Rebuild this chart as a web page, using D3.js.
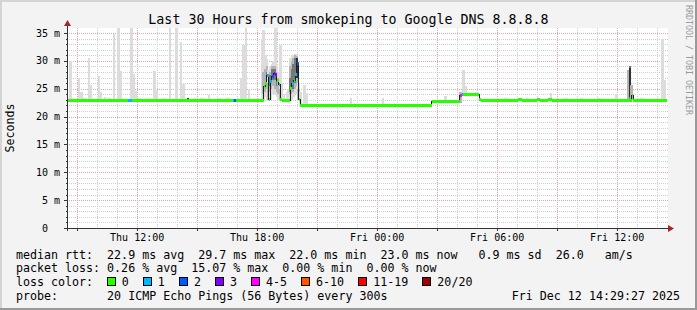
<!DOCTYPE html>
<html>
<head>
<meta charset="utf-8">
<script src="https://cdn.jsdelivr.net/npm/d3@7"></script>
<style>
  body { margin: 0; background: #f3f3f3; }
  text { font-family: "DejaVu Sans Mono", monospace; white-space: pre; }
</style>
</head>
<body>
<div id="chart"></div>
<script>
// loss classes (smokeping defaults for 20 pings)
const lossColors = ["#26ff00", "#00b8ff", "#0059ff", "#7e00ff", "#ff00ff", "#ff5500", "#ff0000", "#a10000"];
const lossLabels = ["0", "1", "2", "3", "4-5", "6-10", "11-19", "20/20"];

// time in hours since Thu Dec 11 2025 00:00
const startHour = 8.4908;
const endHour = 38.4908;
const stepHours = 5 / 60;

// median rtt runs: [start hour, ms, loss class] - each run lasts until the next one
const medianRuns = [
  [8.49, 22.9, 0], [11.52, 22.9, 1], [11.74, 22.9, 0],
  [16.78, 22.9, 1], [16.86, 22.9, 2], [16.94, 22.9, 0],
  [18.32, 25.4, 0], [18.41, 26.0, 0], [18.49, 27.4, 1], [18.57, 23.2, 0],
  [18.66, 26.3, 1], [18.74, 27.2, 2], [18.82, 27.8, 3], [18.91, 27.7, 3],
  [18.99, 26.6, 0], [19.07, 25.8, 1], [19.16, 23.1, 0], [19.24, 23.0, 0],
  [19.66, 25.2, 0], [19.74, 26.0, 1], [19.82, 26.6, 0], [19.91, 27.6, 1],
  [19.99, 29.7, 2], [20.07, 23.1, 0], [20.16, 22.0, 0],
  [26.73, 22.85, 0],
  [28.14, 23.9, 4], [28.22, 24.0, 1], [28.30, 24.0, 0],
  [29.10, 23.1, 0], [29.19, 22.9, 0],
  [31.06, 23.1, 0], [31.22, 22.9, 0],
  [31.97, 23.1, 0], [32.14, 22.9, 0],
  [32.56, 23.1, 0], [32.72, 22.9, 0],
  [36.72, 23.9, 0], [36.80, 22.9, 0]
];

// smoke columns: [hour, low ms, high ms, shade]
const smoke = [
  [8.66, 22.9, 30.0, 0], [9.09, 22.9, 27.0, 0], [9.22, 22.9, 24.5, 0], [9.35, 22.9, 23.3, 0],
  [9.59, 22.9, 30.6, 0], [9.69, 22.9, 25.7, 0], [9.89, 22.9, 23.2, 0],
  [10.09, 22.9, 27.3, 0], [10.19, 22.9, 24.5, 0], [10.39, 22.9, 23.6, 0], [10.6, 22.9, 23.3, 0],
  [10.84, 22.9, 34.9, 0], [11.06, 22.9, 37, 0], [11.19, 22.9, 28.2, 0],
  [11.71, 22.9, 37, 0], [11.82, 22.9, 27.6, 0], [11.94, 22.9, 24.6, 0],
  [12.1, 22.9, 23.3, 0], [12.49, 22.9, 23.4, 0], [12.87, 22.9, 28.1, 0], [12.99, 22.9, 24.8, 0],
  [13.34, 22.9, 23.4, 0], [13.5, 22.9, 23.2, 0], [13.64, 22.9, 37, 0], [13.97, 22.9, 37, 0],
  [14.19, 22.9, 33.4, 0], [14.31, 22.9, 25.9, 0], [14.54, 22.9, 23.4, 3],
  [14.9, 22.9, 23.3, 0], [15.2, 22.9, 23.3, 0], [15.59, 22.9, 23.8, 0], [16.14, 22.9, 23.3, 0],
  [16.5, 22.9, 23.3, 0],
  [17.19, 22.9, 27.0, 0], [17.32, 22.9, 32.8, 0], [17.44, 22.9, 37, 0], [17.59, 22.9, 25.0, 0],
  [18.24, 22.8, 34.0, 0],
  [18.32, 23.0, 35.5, 0], [18.32, 24.0, 28.0, 1],
  [18.41, 23.5, 31.0, 0], [18.41, 24.5, 28.5, 1],
  [18.49, 23.0, 30.4, 0], [18.49, 25.0, 29.0, 1], [18.49, 26.0, 28.0, 2],
  [18.57, 22.8, 28.4, 0], [18.57, 23.0, 26.0, 1],
  [18.66, 23.0, 29.0, 0], [18.66, 24.5, 28.0, 1], [18.66, 25.5, 27.5, 2],
  [18.74, 24.0, 29.5, 0], [18.74, 25.0, 29.0, 1], [18.74, 26.0, 28.5, 2],
  [18.82, 24.0, 30.0, 0], [18.82, 25.5, 29.0, 1], [18.82, 26.5, 28.5, 2],
  [18.91, 24.0, 36.0, 0], [18.91, 25.0, 29.0, 1], [18.91, 26.5, 28.5, 2],
  [18.99, 23.5, 29.0, 0], [18.99, 24.5, 28.0, 1], [18.99, 25.5, 27.5, 2],
  [19.07, 23.0, 28.0, 0], [19.07, 24.0, 27.0, 1],
  [19.16, 22.8, 32.9, 0], [19.16, 23.0, 25.0, 1],
  [19.24, 22.8, 26.0, 0], [19.32, 22.8, 24.0, 0], [19.49, 22.8, 24.5, 0], [19.57, 22.8, 25.0, 0],
  [19.66, 23.0, 30.5, 0], [19.66, 24.0, 29.0, 1], [19.66, 24.5, 27.0, 2],
  [19.74, 23.0, 31.0, 0], [19.74, 24.0, 30.0, 1], [19.74, 25.0, 28.5, 2],
  [19.82, 23.5, 31.0, 0], [19.82, 24.5, 30.5, 1], [19.82, 25.0, 29.5, 2],
  [19.91, 24.0, 31.2, 0], [19.91, 25.0, 31.0, 1], [19.91, 26.0, 30.5, 2],
  [19.99, 24.0, 31.0, 0], [19.99, 25.5, 30.8, 1], [19.99, 27.0, 30.5, 3],
  [20.07, 22.8, 26.0, 0], [20.07, 23.0, 25.0, 1],
  [20.16, 22.0, 24.5, 0], [20.37, 22.0, 25.7, 0], [20.49, 22.0, 24.3, 0],
  [22.69, 22.0, 23.3, 0], [24.29, 22.0, 23.4, 0], [27.43, 22.85, 23.7, 0],
  [28.18, 22.4, 24.5, 1], [28.30, 24.0, 28.4, 0], [28.40, 24.0, 25.5, 0],
  [29.54, 22.9, 23.4, 0], [30.4, 22.9, 23.3, 0], [31.5, 22.9, 23.4, 0],
  [32.69, 22.9, 24.2, 0], [33.4, 22.9, 23.3, 0], [34.2, 22.9, 23.3, 0], [35.1, 22.9, 23.3, 0],
  [35.98, 22.9, 24.1, 0],
  [36.55, 22.9, 28.4, 1], [36.64, 22.9, 29.0, 2], [36.64, 23.5, 28.8, 3], [36.72, 22.9, 25.7, 1],
  [37.2, 22.9, 23.3, 0],
  [38.26, 22.9, 34.0, 0], [38.36, 22.9, 26.6, 0]
];
const smokeShades = ["#dcdcdc", "#b4b4b4", "#787878", "#303030"];

const legendRows = [
  "median rtt:  22.9 ms avg  29.7 ms max  22.0 ms min  23.0 ms now   0.9 ms sd  26.0   am/s",
  "packet loss: 0.26 % avg  15.07 % max  0.00 % min  0.00 % now",
  "loss color:",
  "probe:       20 ICMP Echo Pings (56 Bytes) every 300s"
];
const stamp = "Fri Dec 12 14:29:27 2025";
const title = "Last 30 Hours from smokeping to Google DNS 8.8.8.8";

const width = 697, height = 310;
const plotL = 67, plotR = 667, plotT = 28, plotB = 228;
const charW = 7.02;

const base = new Date(2025, 11, 11, 0, 0, 0).getTime();
const toDate = h => new Date(base + h * 3600e3);

const svg = d3.select("#chart").append("svg")
  .attr("width", width).attr("height", height)
  .style("display", "block");

// frame
svg.append("rect").attr("width", width).attr("height", height).attr("fill", "#f3f3f3");
svg.append("path").attr("d", `M1,${height} V1 H${width}`).attr("stroke", "#d4d4d4").attr("stroke-width", 2).attr("fill", "none");
svg.append("path").attr("d", `M0,${height - 1} H${width - 1} V0`).attr("stroke", "#999").attr("stroke-width", 2).attr("fill", "none");

const x = d3.scaleTime().domain([toDate(startHour), toDate(endHour)]).range([plotL, plotR]);
const y = d3.scaleLinear().domain([0, 35.9]).range([plotB, plotT]);

svg.append("rect").attr("x", plotL).attr("y", plotT).attr("width", plotR - plotL + 1).attr("height", plotB - plotT).attr("fill", "#fff");

const grid = svg.append("g").attr("shape-rendering", "crispEdges").attr("stroke-dasharray", "1,1");
const px = v => Math.round(v) + 0.5;

const hourTicks = x.ticks(d3.timeHour.every(1));
grid.selectAll("line.vmin")
  .data(hourTicks.filter(d => d.getHours() % 3 !== 0))
  .join("line").attr("class", "vmin")
  .attr("x1", d => px(x(d))).attr("x2", d => px(x(d)))
  .attr("y1", plotT).attr("y2", plotB)
  .attr("stroke", "#cfcfcf");

grid.selectAll("line.hmin")
  .data(d3.range(1, 36).filter(v => v % 5 !== 0))
  .join("line").attr("class", "hmin")
  .attr("x1", plotL).attr("x2", plotR + 1)
  .attr("y1", d => px(y(d))).attr("y2", d => px(y(d)))
  .attr("stroke", "#cfcfcf");

const majorX = x.ticks(d3.timeHour.every(3));
grid.selectAll("line.vmaj")
  .data(majorX)
  .join("line").attr("class", "vmaj")
  .attr("x1", d => px(x(d))).attr("x2", d => px(x(d)))
  .attr("y1", plotT).attr("y2", plotB)
  .attr("stroke", "#f0a0a0");

const majorY = y.ticks(7).filter(v => v > 0);
grid.selectAll("line.hmaj")
  .data(majorY)
  .join("line").attr("class", "hmaj")
  .attr("x1", plotL).attr("x2", plotR + 1)
  .attr("y1", d => px(y(d))).attr("y2", d => px(y(d)))
  .attr("stroke", "#f0a0a0");

// smoke
svg.append("clipPath").attr("id", "plot")
  .append("rect").attr("x", plotL).attr("y", plotT).attr("width", plotR - plotL).attr("height", plotB - plotT);

const plot = svg.append("g").attr("clip-path", "url(#plot)");

const colL = d => Math.floor(x(toDate(d[0] - stepHours / 2)));
const colR = d => Math.ceil(x(toDate(d[0] + stepHours / 2)));

plot.append("g").attr("shape-rendering", "crispEdges")
  .selectAll("rect")
  .data(smoke)
  .join("rect")
  .attr("x", colL)
  .attr("width", d => colR(d) - colL(d))
  .attr("y", d => y(d[2]))
  .attr("height", d => y(d[1]) - y(d[2]))
  .attr("fill", d => smokeShades[d[3]]);

// median line: dark step line, then loss-coloured runs on top
const runs = medianRuns.map((r, i) => ({
  start: r[0],
  end: i < medianRuns.length - 1 ? medianRuns[i + 1][0] : endHour,
  ms: r[1],
  loss: r[2]
}));

const stepLine = d3.line()
  .x(d => x(toDate(d[0])))
  .y(d => Math.round(y(d[1])) + 0.5)
  .curve(d3.curveStepAfter);

plot.append("path")
  .datum(runs.map(r => [r.start, r.ms]).concat([[endHour, runs[runs.length - 1].ms]]))
  .attr("d", stepLine)
  .attr("fill", "none")
  .attr("stroke", "#202020")
  .attr("stroke-width", 1)
  .attr("shape-rendering", "crispEdges");

plot.append("g").attr("shape-rendering", "crispEdges")
  .selectAll("rect")
  .data(runs)
  .join("rect")
  .attr("x", d => x(toDate(d.start)))
  .attr("width", d => x(toDate(d.end)) - x(toDate(d.start)))
  .attr("y", d => Math.round(y(d.ms)) - 1)
  .attr("height", 3)
  .attr("fill", d => lossColors[d.loss]);

// axes
const axis = svg.append("g").attr("shape-rendering", "crispEdges").attr("stroke", "#333");
axis.append("line").attr("x1", plotL + 0.5).attr("x2", plotL + 0.5).attr("y1", plotB + 3).attr("y2", plotT - 4);
axis.append("line").attr("x1", plotL - 3).attr("x2", plotR + 3).attr("y1", plotB + 0.5).attr("y2", plotB + 0.5);

axis.selectAll("line.yt")
  .data(d3.range(0, 36))
  .join("line").attr("class", "yt")
  .attr("x1", d => d % 5 === 0 ? plotL - 3 : plotL - 1).attr("x2", plotL)
  .attr("y1", d => px(y(d))).attr("y2", d => px(y(d)));

axis.selectAll("line.xt")
  .data(majorX)
  .join("line").attr("class", "xt")
  .attr("x1", d => px(x(d))).attr("x2", d => px(x(d)))
  .attr("y1", plotB).attr("y2", plotB + 3);

svg.append("path")
  .attr("d", `M${plotL - 3},${plotT - 2} L${plotL + 0.5},${plotT - 8} L${plotL + 4},${plotT - 2} Z`)
  .attr("fill", "#a02828");
svg.append("path")
  .attr("d", `M${plotR + 1},${plotB - 3} L${plotR + 7},${plotB + 0.5} L${plotR + 1},${plotB + 4} Z`)
  .attr("fill", "#a02828");

// tick labels
svg.append("g").selectAll("text")
  .data(y.ticks(7))
  .join("text")
  .attr("x", 60)
  .attr("y", d => y(d))
  .attr("dy", "0.36em")
  .attr("text-anchor", "end")
  .style("font-size", "10px")
  .text(d => d === 0 ? "0  " : `${d} m`);

const fmt = d3.timeFormat("%a %H:%M");
svg.append("g").selectAll("text")
  .data(x.ticks(d3.timeHour.every(6)))
  .join("text")
  .attr("x", d => x(d))
  .attr("y", 241)
  .attr("text-anchor", "middle")
  .style("font-size", "10px")
  .text(d => fmt(d));

svg.append("text")
  .attr("x", width / 2).attr("y", 23.5)
  .attr("text-anchor", "middle")
  .style("font-size", "13.3px")
  .text(title);

svg.append("text")
  .attr("transform", `translate(14, ${(plotT + plotB) / 2}) rotate(-90)`)
  .attr("text-anchor", "middle")
  .style("font-size", "11.6px")
  .text("Seconds");

svg.append("text")
  .attr("transform", "translate(685.5, 5) rotate(90)")
  .attr("text-anchor", "start")
  .style("font-size", "8.3px")
  .attr("fill", "#9a9a9a")
  .text("RRDTOOL / TOBI OETIKER");

// legend
const legendX = 16;
const rowY = i => 258.5 + 13.9 * i;

svg.append("g").selectAll("text")
  .data(legendRows)
  .join("text")
  .attr("x", legendX)
  .attr("y", (d, i) => rowY(i))
  .style("font-size", "11.65px")
  .text(d => d);

let cursor = legendX + 13 * charW - 0.5;
const boxes = lossLabels.map(label => {
  const item = { label, bx: cursor, tx: cursor + 15 };
  cursor = item.tx + (label.length + 2) * charW;
  return item;
});

const lossLegend = svg.append("g");
lossLegend.selectAll("rect")
  .data(boxes)
  .join("rect")
  .attr("x", d => Math.round(d.bx) + 0.5)
  .attr("y", rowY(2) - 8.5)
  .attr("width", 8).attr("height", 8)
  .attr("fill", (d, i) => lossColors[i])
  .attr("stroke", "#000")
  .attr("shape-rendering", "crispEdges");

lossLegend.selectAll("text")
  .data(boxes)
  .join("text")
  .attr("x", d => d.tx)
  .attr("y", rowY(2))
  .style("font-size", "11.65px")
  .text(d => d.label);

svg.append("text")
  .attr("x", 680).attr("y", rowY(3))
  .attr("text-anchor", "end")
  .style("font-size", "11.65px")
  .text(stamp);
</script>
</body>
</html>
